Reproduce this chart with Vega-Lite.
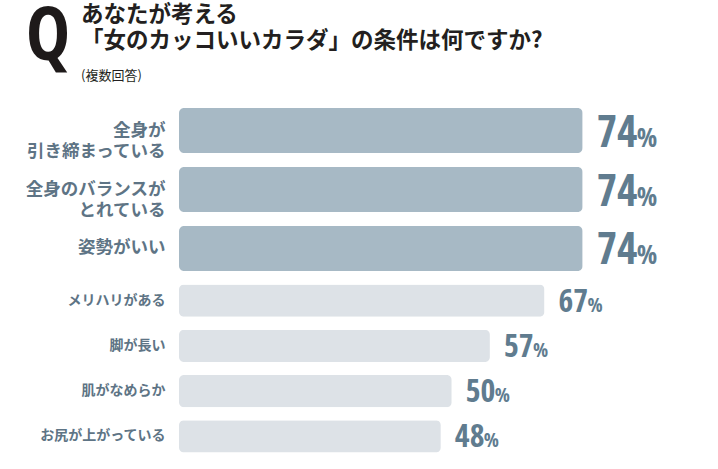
{
  "$schema": "https://vega.github.io/schema/vega-lite/v6.json",
  "background": "white",
  "padding": {"left": 25, "top": 1, "right": 0, "bottom": 5},
  "title": {
    "text": ["あなたが考える", "「女のカッコいいカラダ」の条件は何ですか?"],
    "subtitle": "(複数回答)",
    "anchor": "start",
    "frame": "bounds",
    "font": "Noto Sans CJK JP",
    "fontSize": 22.5,
    "fontWeight": "bold",
    "lineHeight": 26,
    "color": "#231f20",
    "subtitleFont": "Noto Sans CJK JP",
    "subtitleFontSize": 13,
    "subtitleColor": "#231f20",
    "subtitlePadding": 18,
    "dx": 56,
    "dy": 82,
    "offset": 0
  },
  "spacing": 0,
  "resolve": {"scale": {"y": "independent"}},
  "vconcat": [
    {
      "width": 540,
      "height": 177,
      "title": {
        "text": "Q",
        "anchor": "start",
        "frame": "bounds",
        "font": "Open Sans Condensed",
        "fontSize": 74,
        "fontWeight": "bold",
        "color": "#1e1a1a",
        "offset": 25,
        "dx": 1
      },
      "data": {
        "values": [
          {"item": "全身が|引き締まっている", "pct": 74},
          {"item": "全身のバランスが|とれている", "pct": 74},
          {"item": "姿勢がいい", "pct": 74}
        ]
      },
      "encoding": {
        "y": {
          "field": "item",
          "type": "nominal",
          "sort": null,
          "scale": {"paddingInner": 0.237, "paddingOuter": 0.12},
          "axis": {
            "title": null,
            "domain": false,
            "ticks": false,
            "labelPadding": 14,
            "labelExpr": "split(datum.label, '|')",
            "labelFont": "Noto Sans CJK JP",
            "labelFontSize": 17.5,
            "labelFontWeight": "bold",
            "labelLineHeight": 21,
            "labelColor": "#5e7485",
            "labelLimit": 300
          }
        },
        "x": {
          "field": "pct",
          "type": "quantitative",
          "scale": {"domain": [0, 99]},
          "axis": null
        }
      },
      "layer": [
        {"mark": {"type": "bar", "cornerRadius": 5, "color": "#a7b9c5"}},
        {
          "mark": {
            "type": "text",
            "align": "left",
            "baseline": "alphabetic",
            "dx": 14,
            "dy": 16,
            "font": "Open Sans Condensed",
            "fontSize": 44,
            "fontWeight": "bold",
            "color": "#607c8f"
          },
          "encoding": {"text": {"field": "pct"}}
        },
        {
          "mark": {
            "type": "text",
            "align": "left",
            "baseline": "alphabetic",
            "dx": 54,
            "dy": 16,
            "font": "Open Sans Condensed",
            "fontSize": 27,
            "fontWeight": "bold",
            "color": "#607c8f",
            "text": "%"
          }
        }
      ]
    },
    {
      "width": 540,
      "height": 181,
      "data": {
        "values": [
          {"item": "メリハリがある", "pct": 67},
          {"item": "脚が長い", "pct": 57},
          {"item": "肌がなめらか", "pct": 50},
          {"item": "お尻が上がっている", "pct": 48}
        ]
      },
      "encoding": {
        "y": {
          "field": "item",
          "type": "nominal",
          "sort": null,
          "scale": {"paddingInner": 0.29, "paddingOuter": 0.145},
          "axis": {
            "title": null,
            "domain": false,
            "ticks": false,
            "labelPadding": 14,
            "labelFont": "Noto Sans CJK JP",
            "labelFontSize": 14,
            "labelFontWeight": "bold",
            "labelColor": "#5e7485",
            "labelLimit": 300
          }
        },
        "x": {
          "field": "pct",
          "type": "quantitative",
          "scale": {"domain": [0, 99]},
          "axis": null
        }
      },
      "layer": [
        {"mark": {"type": "bar", "cornerRadius": 5, "color": "#dde2e7"}},
        {
          "mark": {
            "type": "text",
            "align": "left",
            "baseline": "alphabetic",
            "dx": 14,
            "dy": 11,
            "font": "Open Sans Condensed",
            "fontSize": 32,
            "fontWeight": "bold",
            "color": "#607c8f"
          },
          "encoding": {"text": {"field": "pct"}}
        },
        {
          "mark": {
            "type": "text",
            "align": "left",
            "baseline": "alphabetic",
            "dx": 43,
            "dy": 11,
            "font": "Open Sans Condensed",
            "fontSize": 20,
            "fontWeight": "bold",
            "color": "#607c8f",
            "text": "%"
          }
        }
      ]
    }
  ],
  "config": {"view": {"stroke": null}}
}
